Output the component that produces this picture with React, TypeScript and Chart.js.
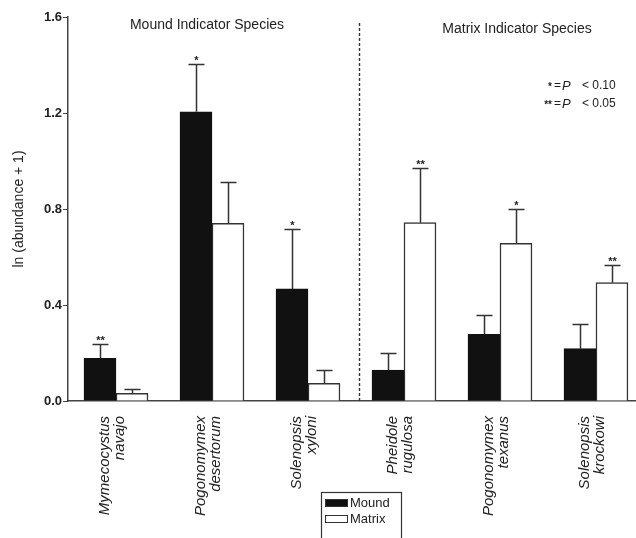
import React, { useEffect, useRef } from "react";
import { Chart, registerables } from "chart.js";

Chart.register(...registerables);

const species: string[][] = [
  ["Mymecocystus", "navajo"],
  ["Pogonomymex", "desertorum"],
  ["Solenopsis", "xyloni"],
  ["Pheidole", "rugulosa"],
  ["Pogonomymex", "texanus"],
  ["Solenopsis", "krockowi"],
];
const moundMeans = [0.178, 1.205, 0.467, 0.129, 0.278, 0.218];
const moundErrors = [0.058, 0.198, 0.25, 0.072, 0.08, 0.101];
const matrixMeans = [0.032, 0.74, 0.074, 0.743, 0.657, 0.493];
const matrixErrors = [0.018, 0.171, 0.055, 0.229, 0.143, 0.074];
const moundSig = ["**", "*", "*", "", "", ""];
const matrixSig = ["", "", "", "**", "*", "**"];
const yTicks = [0, 0.4, 0.8, 1.2, 1.6];
const groupTitles = ["Mound Indicator Species", "Matrix Indicator Species"];
const seriesNames = ["Mound", "Matrix"];

const FONT = "'Liberation Sans', Arial, Helvetica, sans-serif";
const INK = "#222";

const overlay = {
  id: "overlay",
  afterDatasetsDraw(chart: any) {
    const ctx: CanvasRenderingContext2D = chart.ctx;
    const xs = chart.scales.x;
    const ys = chart.scales.y;
    const area = chart.chartArea;
    ctx.save();
    // divider
    const dx = Math.round(xs.getPixelForValue(2.53)) + 0.5;
    ctx.strokeStyle = "#333";
    ctx.lineWidth = 1.4;
    ctx.setLineDash([3, 2]);
    ctx.beginPath();
    ctx.moveTo(dx, area.top + 6);
    ctx.lineTo(dx, area.bottom);
    ctx.stroke();
    ctx.setLineDash([]);

    // error bars + significance
    const sets: [number[], number[], string[]][] = [
      [moundMeans, moundErrors, moundSig],
      [matrixMeans, matrixErrors, matrixSig],
    ];
    sets.forEach(([means, errs, sigs], di) => {
      const meta = chart.getDatasetMeta(di);
      meta.data.forEach((bar: any, i: number) => {
        const base = ys.getPixelForValue(means[i]);
        const top = Math.round(ys.getPixelForValue(means[i] + errs[i])) + 0.5;
        const bx = Math.round(bar.x) + 0.5;
        ctx.strokeStyle = "#333";
        ctx.lineWidth = 1.5;
        ctx.beginPath();
        ctx.moveTo(bx, base);
        ctx.lineTo(bx, top);
        ctx.moveTo(bx - 8, top);
        ctx.lineTo(bx + 8, top);
        ctx.stroke();
        if (sigs[i]) {
          ctx.fillStyle = INK;
          ctx.font = `bold 11px ${FONT}`;
          ctx.textAlign = "center";
          ctx.textBaseline = "alphabetic";
          ctx.fillText(sigs[i], bx, top - 1);
        }
      });
    });
    ctx.restore();
  },
  afterDraw(chart: any) {
    const ctx: CanvasRenderingContext2D = chart.ctx;
    ctx.save();
    ctx.fillStyle = INK;
    ctx.textBaseline = "middle";
    ctx.textAlign = "center";
    ctx.font = `14px ${FONT}`;
    ctx.fillText(groupTitles[0], 207, 25);
    ctx.fillText(groupTitles[1], 517, 29);

    // significance key
    const keyRows: [string, string, number][] = [
      ["*", "0.10", 86],
      ["**", "0.05", 104],
    ];
    keyRows.forEach(([star, txt, y]) => {
      ctx.font = `bold 10px ${FONT}`;
      ctx.textAlign = "right";
      ctx.fillText(star, 552, y + 1);
      ctx.textAlign = "left";
      ctx.font = `12px ${FONT}`;
      ctx.fillText("=", 554, y);
      ctx.font = `italic 13px ${FONT}`;
      ctx.fillText("P", 562, y);
      ctx.font = `12px ${FONT}`;
      ctx.fillText("< " + txt, 582, y);
    });

    // legend box
    ctx.strokeStyle = "#333";
    ctx.lineWidth = 1.2;
    ctx.strokeRect(321.5, 492.5, 80, 60);
    const colors = ["#111", "#fff"];
    seriesNames.forEach((name, i) => {
      const sy = 499 + i * 16;
      ctx.fillStyle = colors[i];
      ctx.fillRect(325, sy, 23, 8);
      ctx.strokeStyle = "#333";
      ctx.lineWidth = 1;
      ctx.strokeRect(325.5, sy + 0.5, 22, 7);
      ctx.fillStyle = INK;
      ctx.font = `13px ${FONT}`;
      ctx.textAlign = "left";
      ctx.textBaseline = "middle";
      ctx.fillText(name, 350, sy + 4);
    });
    ctx.restore();
  },
};

export default function App() {
  const ref = useRef<HTMLCanvasElement | null>(null);
  useEffect(() => {
    if (!ref.current) return;
    const chart = new Chart(ref.current, {
      type: "bar",
      data: {
        datasets: [
          {
            label: seriesNames[0],
            data: moundMeans.map((v, i) => ({ x: i, y: v })),
            backgroundColor: "#111",
            borderColor: "#111",
            borderWidth: 1,
            barThickness: 32,
          },
          {
            label: seriesNames[1],
            data: matrixMeans.map((v, i) => ({ x: i, y: v })),
            backgroundColor: "#fff",
            borderColor: "#333",
            borderWidth: 1.5,
            barThickness: 32,
          },
        ],
      },
      options: {
        responsive: false,
        animation: false,
        layout: { padding: { top: 17, left: 0, right: 0, bottom: 0 } },
        plugins: { legend: { display: false }, tooltip: { enabled: false } },
        scales: {
          x: {
            type: "linear",
            offset: false,
            min: -0.5,
            max: 5.417,
            afterBuildTicks: (scale: any) => {
              scale.ticks = species.map((_, i) => ({ value: i }));
            },
            afterFit: (scale: any) => {
              scale.height = 137;
              scale.paddingLeft = 0;
              scale.paddingRight = 0;
            },
            grid: { display: true, drawOnChartArea: false, drawTicks: false },
            border: { display: true, color: "#444", width: 1.5 },
            ticks: {
              autoSkip: false,
              minRotation: 90,
              maxRotation: 90,
              padding: 15,
              labelOffset: -11,
              color: INK,
              font: { family: FONT, size: 15, style: "italic", lineHeight: 1.0 },
              callback: (v: any) => species[v as number] ?? "",
            },
          },
          y: {
            min: 0,
            max: 1.6,
            afterBuildTicks: (scale: any) => {
              scale.ticks = yTicks.map((v) => ({ value: v }));
            },
            afterFit: (scale: any) => {
              scale.width = 68;
            },
            grid: { display: true, drawOnChartArea: false, drawTicks: true, tickLength: 5, color: "#444" },
            border: { display: true, color: "#444", width: 1.5 },
            ticks: {
              padding: 1,
              color: INK,
              font: { family: FONT, size: 13, weight: "bold" },
              callback: (v: any) => Number(v).toFixed(1),
            },
            title: {
              display: true,
              text: "ln (abundance + 1)",
              color: INK,
              font: { family: FONT, size: 14 },
              padding: { top: 11, bottom: 0 },
            },
          },
        },
      },
      plugins: [overlay],
    } as any);
    return () => chart.destroy();
  }, []);
  return (
    <div style={{ position: "fixed", left: 0, top: 0, width: 636, height: 538, background: "#fff" }}>
      <canvas ref={ref} width={636} height={538} />
    </div>
  );
}
